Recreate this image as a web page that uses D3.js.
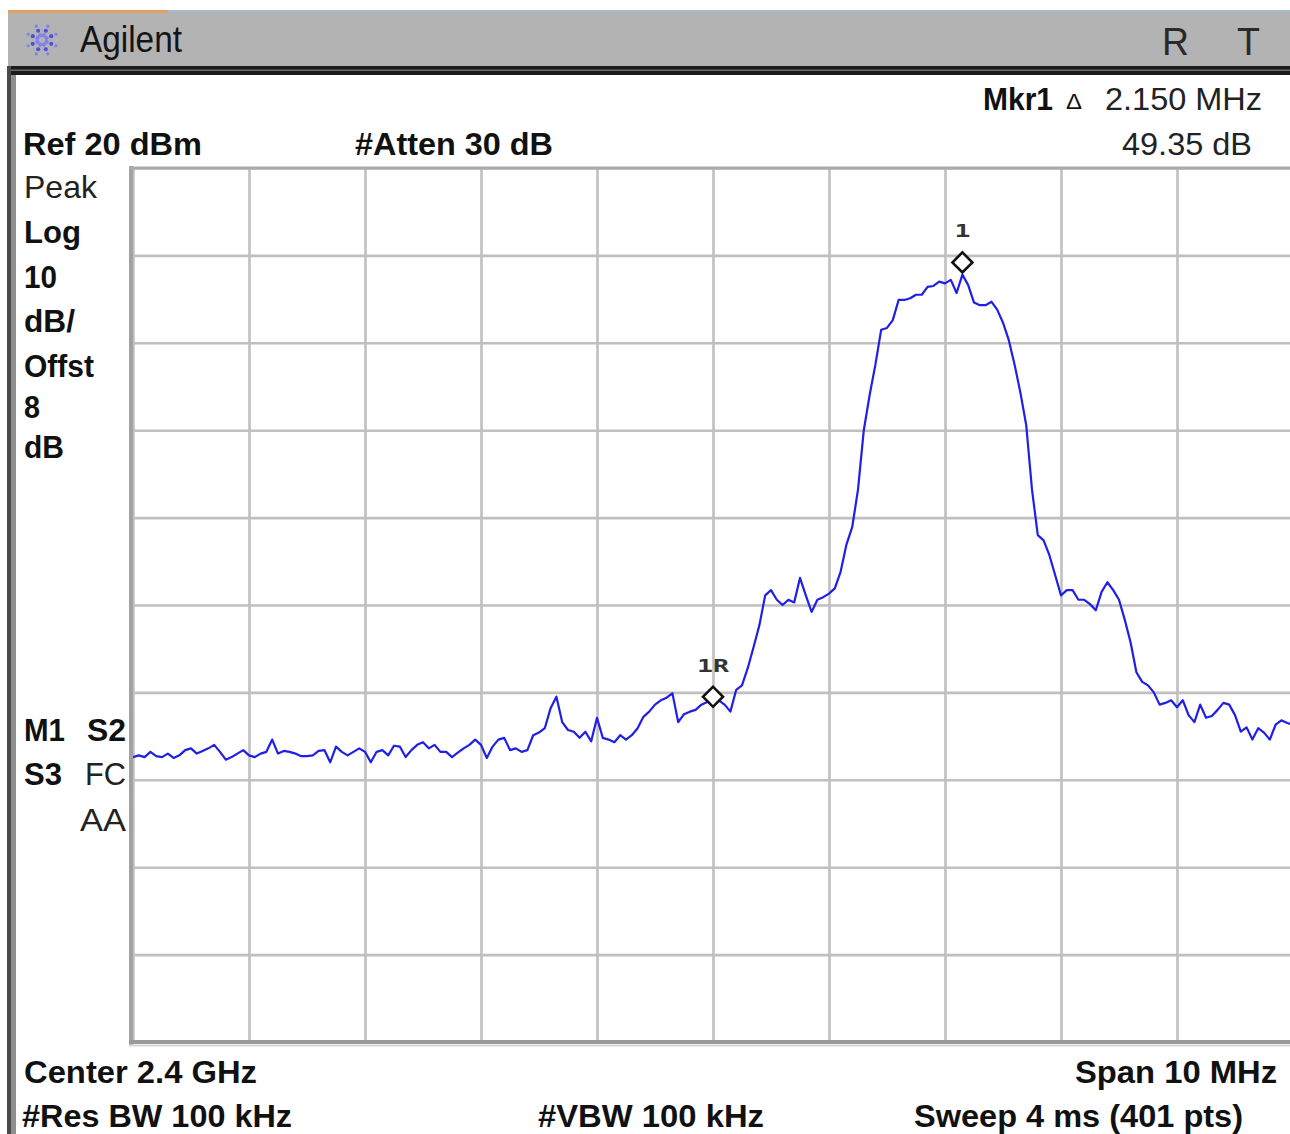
<!DOCTYPE html>
<html><head><meta charset="utf-8">
<script src="https://cdn.jsdelivr.net/npm/d3@7"></script>
<style>body{margin:0;background:#fff;} svg{display:block;}</style>
</head><body>
<svg id="c" width="1290" height="1134"></svg>
<script>
// ---- data ----
const centerMHz = 2400, spanMHz = 10;
const traceStartMHz = 2395, traceStepMHz = 0.05;
const traceDbm = [
 -47.4,-47.2,-47.4,-46.8,-47.3,-47.4,-47.0,-47.5,-47.2,-46.6,
 -46.4,-47.0,-46.7,-46.4,-46.0,-46.8,-47.7,-47.4,-47.0,-46.6,
 -47.2,-47.4,-47.0,-46.8,-45.4,-47.0,-46.7,-46.8,-47.0,-47.3,
 -47.3,-47.2,-46.7,-46.6,-48.0,-46.2,-46.8,-47.2,-46.8,-46.4,
 -46.8,-48.0,-46.8,-46.6,-47.2,-46.1,-46.2,-47.4,-46.6,-46.0,
 -45.7,-46.4,-46.0,-46.8,-46.8,-47.4,-46.9,-46.4,-46.0,-45.4,
 -46.0,-47.5,-46.2,-45.4,-45.2,-46.6,-46.4,-46.8,-46.6,-44.9,
 -44.6,-44.1,-41.8,-40.5,-43.4,-44.3,-44.5,-45.2,-44.5,-45.6,
 -42.9,-45.2,-45.4,-45.7,-44.9,-45.4,-44.9,-44.1,-42.8,-42.2,
 -41.4,-40.9,-40.6,-40.1,-43.4,-42.5,-42.2,-42.0,-41.4,-41.1,
 -40.5,-40.9,-41.4,-42.2,-39.7,-39.2,-37.2,-34.8,-32.3,-28.9,
 -28.3,-29.4,-30.0,-29.4,-29.7,-26.9,-28.9,-30.8,-29.4,-29.1,
 -28.7,-28.1,-26.2,-23.1,-21.1,-16.8,-10.0,-6.0,-2.5,1.5,
 1.7,2.6,4.9,4.9,5.1,5.5,5.5,6.4,6.5,7.0,
 6.8,7.2,5.7,7.8,6.6,4.6,4.3,4.3,4.7,3.8,
 2.3,0.3,-2.5,-5.7,-9.4,-16.8,-22.0,-22.6,-24.3,-26.6,
 -28.9,-28.3,-28.3,-29.4,-29.4,-29.9,-30.6,-28.5,-27.4,-28.3,
 -29.4,-31.7,-34.3,-37.7,-38.8,-39.2,-40.0,-41.4,-41.2,-40.9,
 -41.7,-40.9,-42.6,-43.4,-41.4,-42.9,-42.7,-42.0,-41.2,-41.4,
 -42.6,-44.5,-44.0,-45.4,-44.1,-44.6,-45.4,-43.7,-43.2,-43.5,
 -43.7
];
const gridFreqsMHz = [2395,2396,2397,2398,2399,2400,2401,2402,2403,2404,2405];
const gridLevelsDbm = [20,10,0,-10,-20,-30,-40,-50,-60,-70,-80];
const markerFreqsMHz = [2400.0, 2402.15];
const markerLevelsDbm = [-40.5, 9.2];
const markerLabels = ["1R", "1"];

// ---- drawing ----
const svg = d3.select("#c");
const W = 1290, H = 1134;
svg.append("rect").attr("width", W).attr("height", H).attr("fill", "#fff");

// window chrome
svg.append("rect").attr("x", 8).attr("y", 10).attr("width", W - 8).attr("height", 3).attr("fill", "#aab8c8");
svg.append("rect").attr("x", 8).attr("y", 10).attr("width", 160).attr("height", 3).attr("fill", "#e0a060");
svg.append("rect").attr("x", 8).attr("y", 13).attr("width", W - 8).attr("height", 53).attr("fill", "#b3b3b3");
svg.append("rect").attr("x", 8).attr("y", 66).attr("width", W - 8).attr("height", 9).attr("fill", "#1c1c1c");
svg.append("rect").attr("x", 8).attr("y", 69.5).attr("width", W - 8).attr("height", 1.5).attr("fill", "#6a6a6a");
svg.append("rect").attr("x", 7).attr("y", 66).attr("width", 4).attr("height", H - 66).attr("fill", "#4a4a4a");
svg.append("rect").attr("x", 11).attr("y", 75).attr("width", 5).attr("height", H - 75).attr("fill", "#8e8e8e");

// logo
const logo = svg.append("g").attr("transform", "translate(42,40)");
for (let k = 0; k < 8; k++) {
  const a = k * Math.PI / 4 + Math.PI / 8;
  [5, 10, 15].forEach((r, j) => {
    logo.append("circle").attr("cx", r * Math.cos(a)).attr("cy", r * Math.sin(a))
      .attr("r", j === 2 ? 1.6 : 2.1).attr("fill", j === 1 ? "#5050e0" : "#8080f0");
  });
}

// scales
const x = d3.scaleLinear().domain([centerMHz - spanMHz / 2, centerMHz + spanMHz / 2]).range([133, 1293]);
const y = d3.scaleLinear().domain([-80, 20]).range([1042, 168]);

// grid via axes
svg.append("g").attr("transform", "translate(0,1042)")
  .call(d3.axisBottom(x).tickValues(gridFreqsMHz).tickSize(-(1042 - 168)).tickFormat(""))
  .call(g => g.select(".domain").remove())
  .call(g => g.selectAll(".tick line").attr("stroke", "#c0c0c0").attr("stroke-width", 2.6));
svg.append("g").attr("transform", "translate(133,0)")
  .call(d3.axisLeft(y).tickValues(gridLevelsDbm).tickSize(-(1293 - 133)).tickFormat(""))
  .call(g => g.select(".domain").remove())
  .call(g => g.selectAll(".tick line").attr("stroke", "#c0c0c0").attr("stroke-width", 2.6));

// frame
svg.append("line").attr("x1", 131).attr("x2", 131).attr("y1", 166).attr("y2", 1045).attr("stroke", "#a2a2a2").attr("stroke-width", 4);
svg.append("line").attr("x1", 129).attr("x2", W).attr("y1", 168).attr("y2", 168).attr("stroke", "#aaaaaa").attr("stroke-width", 3);
svg.append("line").attr("x1", 129).attr("x2", W).attr("y1", 1042).attr("y2", 1042).attr("stroke", "#9a9a9a").attr("stroke-width", 4);
svg.append("line").attr("x1", 129).attr("x2", W).attr("y1", 1045.5).attr("y2", 1045.5).attr("stroke", "#d6d6d6").attr("stroke-width", 2);

// trace
svg.append("clipPath").attr("id", "pc").append("rect").attr("x", 133).attr("y", 168).attr("width", 1160).attr("height", 874);
const line = d3.line()
  .x((d, i) => x(traceStartMHz + i * traceStepMHz))
  .y(d => y(d));
svg.append("path").datum(traceDbm).attr("clip-path", "url(#pc)")
  .attr("d", line).attr("fill", "none").attr("stroke", "#1f1fe6")
  .attr("stroke-width", 2.2).attr("stroke-linejoin", "round");

// markers
const mk = svg.append("g");
markerFreqsMHz.forEach((f, i) => {
  const cx = x(f), cy = y(markerLevelsDbm[i]);
  mk.append("path").attr("d", d3.symbol(d3.symbolSquare, 200)())
    .attr("transform", `translate(${cx},${cy}) rotate(45)`)
    .attr("fill", "#fff").attr("stroke", "#111").attr("stroke-width", 2.6);
  const lab = markerLabels[i];
  mk.append("text").attr("x", cx).attr("y", cy - 25).attr("text-anchor", "middle")
    .attr("font-family", "DejaVu Sans Mono").attr("font-weight", "bold").attr("font-size", 17)
    .attr("textLength", lab.length * 16).attr("lengthAdjust", "spacingAndGlyphs")
    .attr("fill", "#333").text(lab);
});

// texts
function txt(s, xx, yb, size, weight, len, color, family) {
  const t = svg.append("text").attr("x", xx).attr("y", yb)
    .attr("font-family", family || "Liberation Sans, Arial, sans-serif")
    .attr("font-size", size).attr("font-weight", weight).attr("fill", color || "#111").text(s);
  if (len) t.attr("textLength", len).attr("lengthAdjust", "spacingAndGlyphs");
  return t;
}
txt("Agilent", 80, 52, 36, "normal", 102, "#141414");
txt("R", 1162, 55, 39, "normal", 27, "#2a2a2a");
txt("T", 1237, 55, 39, "normal", 23, "#2a2a2a");

txt("Mkr1", 983, 110, 32, "bold", 70);
txt("\u0394", 1066, 109, 22, "normal", 16);
txt("2.150 MHz", 1105, 110, 32, "normal", 157, "#222");
txt("49.35 dB", 1122, 155, 32, "normal", 130, "#222");
txt("Ref 20 dBm", 23, 155, 32, "bold", 179);
txt("#Atten 30 dB", 355, 155, 32, "bold", 198);

txt("Peak", 24, 198, 32, "normal", 73, "#222");
txt("Log", 24, 243, 32, "bold", 57);
txt("10", 24, 288, 32, "bold", 33);
txt("dB/", 24, 332, 32, "bold", 51);
txt("Offst", 24, 377, 32, "bold", 70);
txt("8", 24, 418, 32, "bold", 16);
txt("dB", 24, 458, 32, "bold", 40);

txt("M1", 24, 741, 32, "bold", 41);
txt("S2", 87, 741, 32, "bold", 39);
txt("S3", 24, 785, 32, "bold", 38);
txt("FC", 85, 785, 32, "normal", 41, "#222");
txt("AA", 80, 831, 32, "normal", 46, "#222");

txt("Center 2.4 GHz", 24, 1083, 32, "bold", 233);
txt("Span 10 MHz", 1075, 1083, 32, "bold", 202);
txt("#Res BW 100 kHz", 22, 1127, 32, "bold", 270);
txt("#VBW 100 kHz", 538, 1127, 32, "bold", 226);
txt("Sweep 4 ms (401 pts)", 914, 1127, 32, "bold", 329);
</script>
</body></html>
